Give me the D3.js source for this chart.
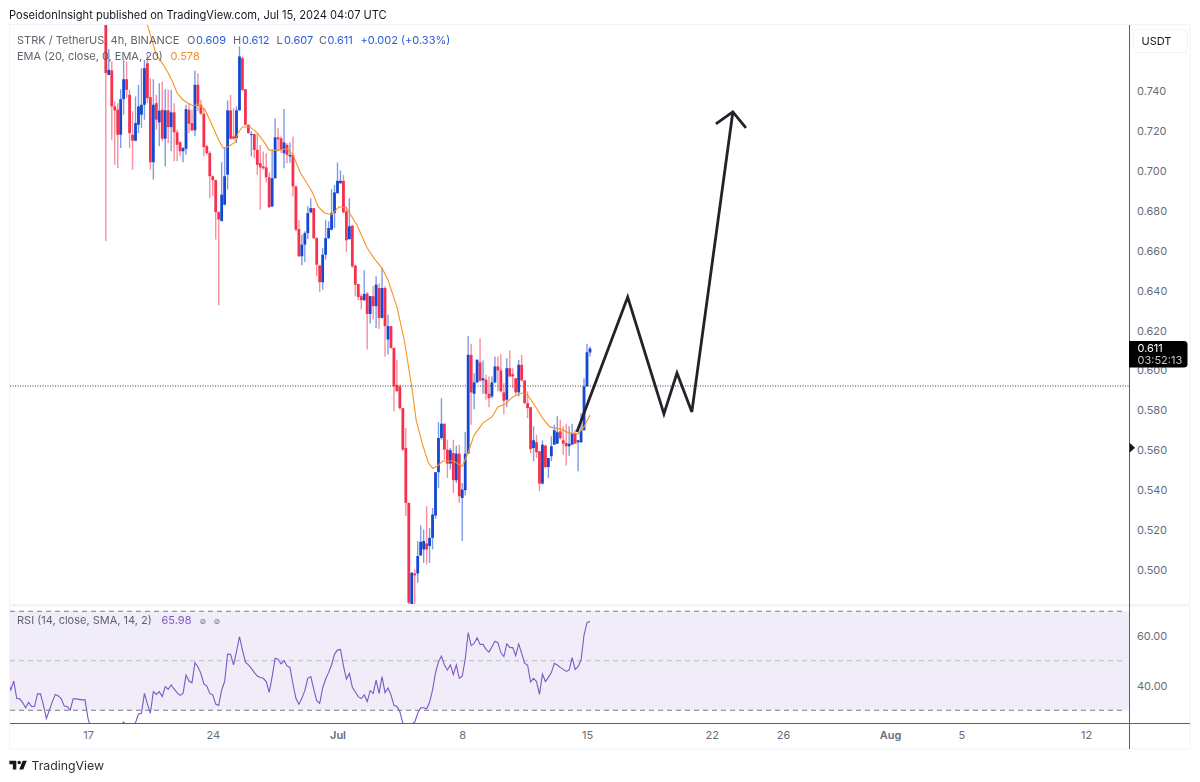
<!DOCTYPE html>
<html><head><meta charset="utf-8">
<script src="https://cdn.jsdelivr.net/npm/d3@7"></script>
<style>html,body{margin:0;padding:0;background:#fff}svg{display:block;filter:blur(.3px)}text{font-family:Inter,Roboto,sans-serif}</style>
</head><body><svg id="c" width="1200" height="782"></svg>
<script>
// One 4h candle per entry, starting 18 Jun 2024 00:00 UTC
const firstBar = Date.UTC(2024,5,18);
const barMs = 4*3600*1000;
const opens = [.782,.748,.7503,.7323,.7306,.7181,.7359,.7459,.7381,.7181,.7151,.7231,.7281,.7331,.7539,.7369,.7043,.7339,.7243,.7306,.7161,.7303,.7219,.7293,.7193,.7143,.7098,.7111,.7306,.7239,.7203,.7431,.7331,.7286,.7123,.7089,.6973,.6953,.6793,.6748,.6831,.6981,.7303,.7173,.7164,.7303,.7564,.7409,.7231,.7181,
.7183,.7105,.7038,.7022,.7017,.6968,.6822,.6963,.7168,.7163,.7088,.7130,.7072,.7080,.6922,.6708,.6572,.6630,.6688,.6792,.6813,.6663,.6525,.6442,.6580,.6663,.6705,.6788,.6888,.6938,.6950,.6797,.6658,.6725,.6525,.6433,.6372,.6352,.6385,.6283,.6372,.6322,.6413,.6263,.6413,.6155,.6222,.6113,.5928,.5920,
.5811,.5611,.5336,.4780,.4983,.4983,.5073,.5103,.5133,.5120,.5161,.5273,.5490,.5661,.5733,.5603,.5533,.5586,.5450,.5583,.5361,.5400,.5583,.6078,.5883,.5940,.6040,.5950,.5953,.5883,.5870,.5940,.6020,.6000,.5890,.5853,.6011,.5981,.5961,.5890,.6028,.5950,.5836,.5816,.5611,.5640,.5595,.5433,.5623,.5516,.5570,.5628,.5633,.5695,.5650,.5636,.5620,.5628,.5686,.5640,.5640,.5700,.5920,.609];
const highs = [.790,.761,.7548,.7348,.7339,.7409,.7556,.7548,.7406,.7298,.7373,.7431,.7514,.7556,.7581,.7464,.7459,.7381,.7439,.7448,.7409,.7406,.7406,.7339,.7206,.7148,.7119,.7331,.7339,.7306,.7503,.7489,.7356,.7314,.7131,.7098,.6976,.6956,.6798,.7043,.7114,.7353,.7381,.7314,.7323,.7623,.7573,.7409,.7231,.7198,
.7188,.7188,.7130,.7097,.7088,.6992,.7105,.7263,.7213,.7172,.7310,.7138,.7142,.7172,.6925,.6752,.6680,.6697,.6822,.6863,.6813,.6668,.6530,.6613,.6755,.6747,.6908,.6930,.7042,.7002,.6980,.6822,.6863,.6730,.6530,.6433,.6380,.6502,.6392,.6372,.6422,.6472,.6435,.6513,.6422,.6280,.6222,.6113,.6053,.5928,
.5811,.5711,.5340,.4990,.5003,.5145,.5223,.5203,.5320,.5211,.5311,.5490,.5741,.5861,.5733,.5653,.5611,.5653,.5623,.5628,.5436,.5691,.6173,.6133,.5986,.6056,.6161,.6050,.5978,.5970,.5970,.6070,.6070,.6081,.5936,.6061,.6100,.6011,.5961,.6053,.6078,.5950,.5895,.5816,.5720,.5678,.5595,.5650,.5628,.5561,.5670,.5728,.5770,.5753,.5720,.5733,.5720,.5733,.5703,.5650,.5786,.5961,.6133,.612];
const lows = [.6648,.748,.7156,.7031,.7014,.7114,.7281,.7364,.7114,.7006,.7148,.7189,.7214,.7256,.7339,.7006,.6956,.7206,.7123,.7148,.7023,.7139,.7098,.7048,.7048,.7073,.7043,.7081,.7189,.7198,.7173,.7298,.7281,.7073,.7081,.6864,.6873,.6656,.6326,.6748,.6826,.6906,.7156,.7156,.7139,.7303,.7398,.7226,.7186,.7073,
.7063,.6980,.6805,.7005,.6942,.6813,.6818,.6960,.7097,.7088,.7013,.7038,.7042,.6872,.6697,.6568,.6527,.6543,.6658,.6788,.6658,.6472,.6392,.6405,.6555,.6658,.6702,.6713,.6885,.6935,.6788,.6592,.6655,.6513,.6372,.6352,.6305,.6348,.6105,.6235,.6255,.6213,.6208,.6260,.6068,.6080,.6108,.5795,.5895,.5803,
.5595,.5270,.4700,.4700,.4750,.4936,.5070,.5036,.5028,.5036,.5103,.5256,.5411,.5653,.5553,.5461,.5503,.5386,.5436,.5336,.5145,.5373,.5583,.5728,.5806,.5936,.5945,.5883,.5853,.5816,.5861,.5936,.5895,.5890,.5781,.5816,.5966,.5911,.5878,.5870,.5945,.5833,.5761,.5586,.5545,.5561,.5395,.5428,.5511,.5461,.5545,.5628,.5633,.5653,.5578,.5523,.5573,.5628,.5633,.5495,.5636,.5700,.5920,.607];
const closes = [.749,.7506,.7323,.7303,.7181,.7359,.7459,.7406,.7189,.7151,.7239,.7323,.7331,.7514,.7364,.7043,.7331,.7256,.7301,.7161,.7303,.7219,.7293,.7193,.7131,.7098,.7114,.7309,.7236,.7203,.7431,.7326,.7286,.7119,.7089,.6973,.6953,.6793,.6756,.6881,.6973,.7303,.7161,.7161,.7303,.7573,.7406,.7231,.7189,.7184,
.7105,.7030,.7017,.7013,.6968,.6818,.6963,.7168,.7158,.7105,.7142,.7080,.7080,.6922,.6705,.6572,.6630,.6688,.6788,.6813,.6663,.6530,.6442,.6580,.6663,.6713,.6788,.6892,.6950,.6950,.6792,.6652,.6722,.6522,.6430,.6368,.6352,.6383,.6283,.6372,.6322,.6430,.6263,.6413,.6222,.6222,.6113,.5920,.5895,.5811,
.5603,.5336,.4836,.4986,.4973,.5070,.5141,.5145,.5103,.5161,.5278,.5490,.5661,.5733,.5603,.5533,.5600,.5450,.5583,.5370,.5403,.5583,.6078,.5890,.5940,.6053,.5948,.5961,.5883,.5861,.5940,.6020,.6000,.5895,.5848,.6011,.5970,.5970,.5890,.6028,.5950,.5836,.5811,.5606,.5650,.5590,.5433,.5628,.5516,.5561,.5620,.5700,.5690,.5661,.5633,.5620,.5633,.5686,.5633,.5650,.5700,.5920,.6091,.611];
// EMA vertices: bar number, value
const emaBars = [14,15.5,17,19,21,22.5,24,26,27.5,29.5,31,33.5,35,36.5,38,39.5,41,43.5,44.5,46,48.5,51,53.5,55,58,61,63,65.5,68,69.5,71.5,73.5,76,78.5,81,84.5,88,90.5,93,95,98,100.5,103,104.5,106.5,108.5,110,111.5,113.5,117,120,122,124,127,130,132,134.5,137,140,142,145,147,149.5,153,156,159,161,163];
const emaValues = [.7731,.7656,.758,.754,.749,.7445,.739,.7355,.734,.7325,.7335,.7305,.7255,.7205,.7155,.7114,.712,.7144,.719,.722,.722,.719,.714,.7104,.7104,.711,.708,.699,.693,.6894,.682,.679,.678,.682,.6814,.673,.6613,.6558,.6513,.6453,.6318,.615,.5917,.575,.5636,.554,.551,.552,.5546,.5546,.552,.559,.5676,.5737,.5767,.5817,.5832,.5867,.5887,.5877,.5812,.5762,.5717,.5707,.5687,.5682,.5717,.5777];
// RSI: one value per bar, first one is bar -33
const rsiFirstBar = -33;
const rsiValues = [42.2,38.2,41.8,34.8,34.6,33.1,31.0,33.2,31.5,31.5,36.6,36.6,32.1,26.7,30.1,33.5,36.4,35.8,34.6,31.7,31.5,30.1,34.6,34.6,34.4,34.2,34.2,26.7,22.7,20.7,20.7,19.3,21.3,
22.0,21.3,20.7,21.3,22.7,24.0,25.2,23.4,22.7,23.6,25.0,28.5,28.8,36.8,32.5,28.8,37.5,36.4,37.5,35.5,39.5,38.5,40.2,38.5,37.1,36.0,36.8,44.2,41.8,41.1,49.2,47.6,44.9,40.6,39.8,36.8,36.2,32.5,31.9,38.2,41.6,52.7,52.6,48.3,53.7,59.7,54.3,49.4,48.3,46.9,45.2,43.8,43.2,42.9,41.6,37.2,43.6,51.0,50.6,48.7,50.0,47.9,47.3,40.6,34.8,32.4,34.8,37.9,42.9,43.6,38.5,33.9,32.8,
38.9,42.6,45.2,48.3,52.7,54.3,54.6,47.9,42.6,44.9,39.3,37.4,35.5,34.7,36.2,33.5,37.9,36.8,42.2,36.8,43.6,37.1,39.0,36.2,32.0,31.5,29.4,24.7,21.3,20.7,24.4,25.2,28.8,31.0,31.0,30.6,33.2,38.2,45.2,49.6,51.9,48.3,46.3,48.3,44.4,48.3,42.9,43.8,50.6,61.4,56.1,57.0,59.3,56.6,56.6,54.6,53.5,55.7,57.9,57.3,53.3,51.7,56.8,55.4,55.3,52.1,56.8,53.0,49.0,48.2,41.4,42.9,41.6,36.4,44.6,41.6,43.3,45.2,49.0,48.3,47.3,46.5,45.7,46.3,51.3,46.5,47.6,50.3,60.4,65.4,66.0];
// Hand-drawn forecast path: bar number, price
const pathBars = [158.6,175.7,187.9,192.3,197.3,211.1];
const pathPrices = [.5692,.6368,.5782,.5987,.5792,.7295];
const headBars = [205.4,211.1,215.5];
const headPrices = [.7235,.7295,.7215];
const priceTicks = [.5,.52,.54,.56,.58,.6,.62,.64,.66,.68,.7,.72,.74];
const rsiTicks = [40,60];
const rsiLevels = [70,50,30];
const lastPriceLine = .5922;
const alertPrice = .5612;
const timeTicks = [[2024,5,17,"17"],[2024,5,24,"24"],[2024,6,1,"Jul"],[2024,6,8,"8"],[2024,6,15,"15"],[2024,6,22,"22"],[2024,6,26,"26"],[2024,7,1,"Aug"],[2024,7,5,"5"],[2024,7,12,"12"]];

const L=10,R=1129,T=25,MB=604,RT=606,RB=723,FB=749,FR=1190;
const blue="#1448d2",red="#f7314c",orange="#f7931e",purple="#7e57c2",dark="#131722",grey="#6a6d78",frameC="#f0f3fa";
const svg=d3.select("#c");
const x=d3.scaleUtc().domain([Date.UTC(2024,5,17),Date.UTC(2024,7,12)]).range([88,1086]);
const barX=b=>x(firstBar+b*barMs);
const y=d3.scaleLinear().domain([.5,.74]).range([570,91]);
const yr=d3.scaleLinear().domain([40,60]).range([685.5,636]);
const defs=svg.append("defs");
defs.append("clipPath").attr("id","m").append("rect").attr("x",L).attr("y",T).attr("width",R-L).attr("height",MB-T);
defs.append("clipPath").attr("id","r").append("rect").attr("x",L).attr("y",RT).attr("width",R-L).attr("height",RB-RT);

// frame
svg.append("rect").attr("x",9.5).attr("y",24.5).attr("width",FR-9.5).attr("height",FB-24.5).attr("fill","#fff").attr("stroke",frameC);
svg.append("rect").attr("x",L).attr("y",MB).attr("width",FR-L).attr("height",2.5).attr("fill",frameC);

// RSI pane
const rp=svg.append("g").attr("clip-path","url(#r)");
rp.append("rect").attr("x",L).attr("width",R-L).attr("y",yr(70)).attr("height",yr(30)-yr(70)).attr("fill",purple).attr("fill-opacity",.11);
rp.selectAll("line.l").data(rsiLevels).join("line").attr("x1",L).attr("x2",R-6).attr("y1",yr).attr("y2",yr)
  .attr("stroke",d=>d===50?"#b8bac2":"#787b86").attr("stroke-dasharray","5 4").attr("stroke-width",1);
rp.append("path").datum(rsiValues).attr("fill","none").attr("stroke",purple).attr("stroke-width",1.1)
  .attr("d",d3.line().x((d,i)=>barX(rsiFirstBar+i)).y(d=>yr(d)));

// main pane
const mp=svg.append("g").attr("clip-path","url(#m)");
const up=i=>closes[i]>=opens[i];
mp.append("line").attr("x1",L).attr("x2",R).attr("y1",y(lastPriceLine)).attr("y2",y(lastPriceLine)).attr("stroke","#33353d").attr("stroke-dasharray","1 1.5");
mp.selectAll("line.w").data(d3.range(opens.length)).join("line").attr("class","w")
  .attr("x1",barX).attr("x2",barX).attr("y1",i=>y(highs[i])).attr("y2",i=>y(lows[i]))
  .attr("stroke",i=>up(i)?blue:red).attr("stroke-width",1.4).attr("stroke-opacity",.55);
mp.selectAll("rect.b").data(d3.range(opens.length)).join("rect").attr("class","b")
  .attr("x",i=>barX(i)-1.4).attr("width",2.8)
  .attr("y",i=>y(Math.max(opens[i],closes[i])))
  .attr("height",i=>Math.max(1,Math.abs(y(opens[i])-y(closes[i]))))
  .attr("fill",i=>up(i)?blue:red);
mp.append("path").datum(emaValues).attr("fill","none").attr("stroke",orange).attr("stroke-width",1.1)
  .attr("d",d3.line().x((d,i)=>barX(emaBars[i])).y(d=>y(d)));
const pl=d3.line().x(d=>barX(d[0])).y(d=>y(d[1]));
mp.append("path").datum(d3.zip(pathBars,pathPrices)).attr("d",pl).attr("fill","none").attr("stroke","#22232a").attr("stroke-width",2.8);
mp.append("path").datum(d3.zip(headBars,headPrices)).attr("d",pl).attr("fill","none").attr("stroke","#22232a").attr("stroke-width",2.8);

// axes
const pa=svg.append("g").attr("transform",`translate(${R},0)`).call(d3.axisRight(y).tickValues(priceTicks).tickSize(0).tickPadding(8).tickFormat(d3.format(".3f")));
const ra=svg.append("g").attr("transform",`translate(${R},0)`).call(d3.axisRight(yr).tickValues(rsiTicks).tickSize(0).tickPadding(8).tickFormat(d3.format(".2f")));
const ta=svg.append("g").attr("transform",`translate(0,${RB})`).call(d3.axisBottom(x).tickValues(timeTicks.map(t=>new Date(Date.UTC(t[0],t[1],t[2])))).tickSize(0).tickPadding(8).tickFormat((d,i)=>timeTicks[i][3]));
[pa,ra,ta].forEach(a=>{a.select(".domain").remove();a.selectAll("text").attr("fill",grey).attr("font-size",11).attr("font-family","Inter,Roboto,sans-serif");});
ta.selectAll("text").attr("font-weight",(d,i)=>isNaN(+timeTicks[i][3])?600:400);
svg.append("line").attr("x1",L).attr("x2",FR).attr("y1",RB+.5).attr("y2",RB+.5).attr("stroke","#5d606b");
svg.append("line").attr("x1",R+.5).attr("x2",R+.5).attr("y1",T).attr("y2",FB).attr("stroke","#5d606b");

// legend text
const txt=(s,xx,yy,fill,size)=>svg.append("text").attr("x",xx).attr("y",yy).attr("fill",fill).attr("font-size",size).text(s);
const tg="#5f626c",tb="#2a5bd7",fs=11;
txt("PoseidonInsight published on TradingView.com, Jul 15, 2024 04:07 UTC",9,19,dark,11.1);
txt("STRK / TetherUS, 4h, BINANCE",17,44,tg,fs);
[["O",187,tg],["0.609",196,tb],["H",233,tg],["0.612",242,tb],["L",276.5,tg],["0.607",284,tb],["C",319,tg],["0.611",327.5,tb],["+0.002 (+0.33%)",360.5,tb]].forEach(d=>txt(d[0],d[1],44,d[2],fs));
txt("EMA (20, close, 0, EMA, 20)",17,60,tg,fs);
txt("0.578",170.5,60,"#f28c28",fs);
txt("RSI (14, close, SMA, 14, 2)",17,624,tg,fs);
txt("65.98",161.5,624,purple,fs);
txt("⊘",199.5,624,tg,8).attr("font-family","DejaVu Sans").style("font-family","DejaVu Sans");
txt("⊘",213.5,624,tg,8).attr("font-family","DejaVu Sans").style("font-family","DejaVu Sans");

// USDT button
svg.append("rect").attr("x",1133.5).attr("y",29.5).attr("width",54).attr("height",23).attr("rx",4).attr("fill","#fff").attr("stroke",frameC);
txt("USDT",1141.5,45,dark,11);

// last price tag
svg.append("path").attr("d",`M${R} 341H1184a3.5 3.5 0 0 1 3.5 3.5V364a3.5 3.5 0 0 1 -3.5 3.5H${R}Z`).attr("fill","#000");
txt(d3.format(".3f")(closes[closes.length-1]),1137.5,352,"#fff",11);
txt("03:52:13",1137.5,364,"#c4c6cc",11);

// alert marker
svg.append("path").attr("d",`M${R+.5} ${y(alertPrice)-5}L${R+6} ${y(alertPrice)}L${R+.5} ${y(alertPrice)+5}Z`).attr("fill",dark);

// footer logo
svg.append("path").attr("transform","translate(8.2,757.3) scale(.58)").attr("d","M14 6H2v6h6v9h6V6Zm12 15h-7l6-15h7l-6 15Zm-7-9a3 3 0 1 0 0-6 3 3 0 0 0 0 6Z").attr("fill",dark);
txt("TradingView",31.5,770,"#2e3138",12.3);
</script></body></html>
